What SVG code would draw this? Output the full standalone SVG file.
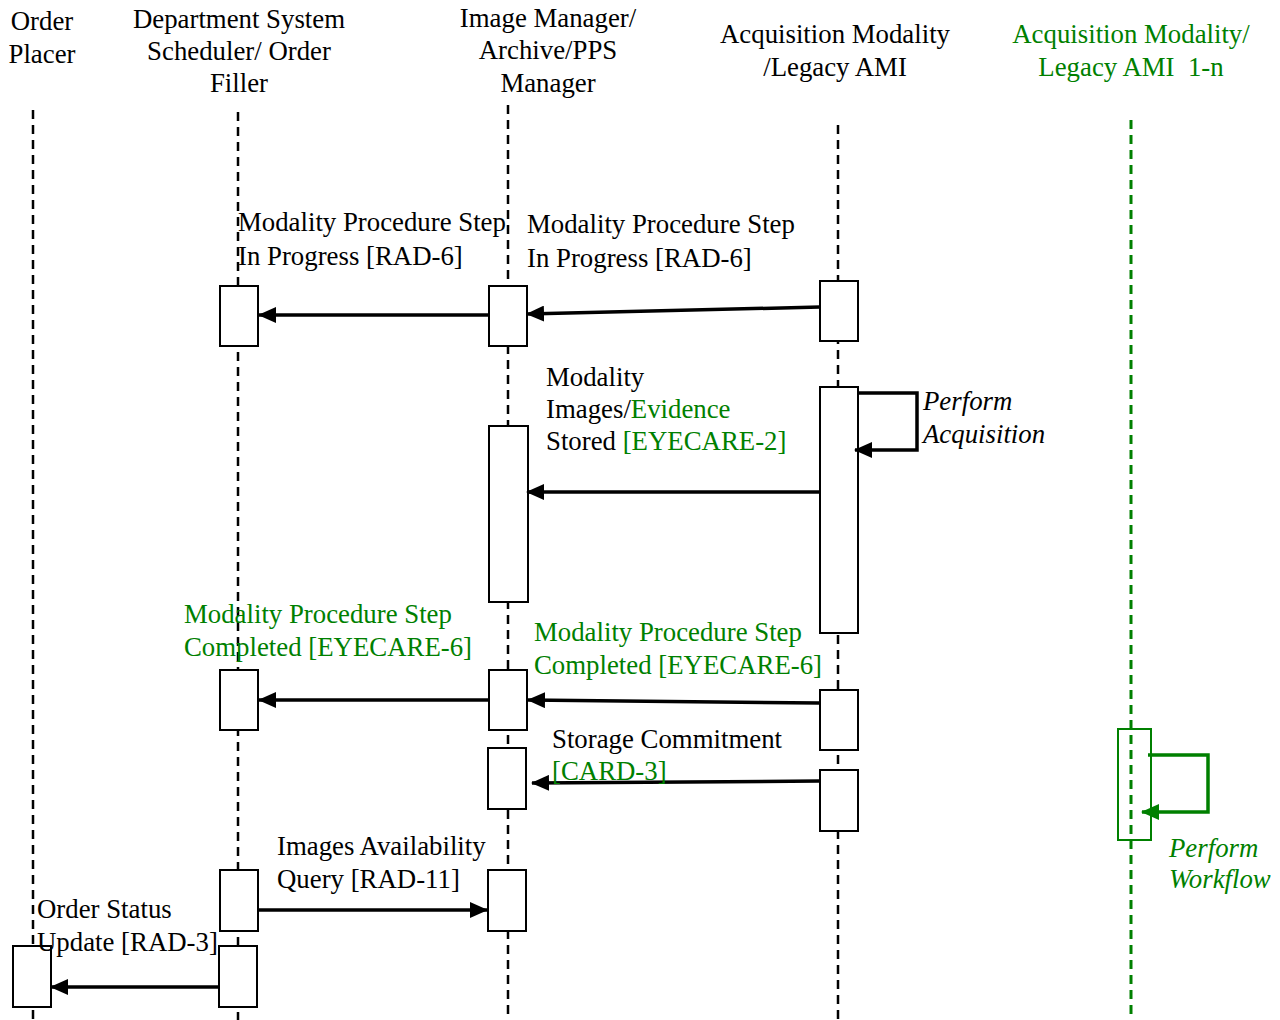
<svg xmlns="http://www.w3.org/2000/svg" width="1280" height="1020" viewBox="0 0 1280 1020">
<style>
text{font-family:"Liberation Serif","Times New Roman",serif;font-size:26.8px;fill:#000}
.g{fill:#008000}
.i{font-style:italic}
.c{text-anchor:middle}
.life{stroke:#000;stroke-width:2.5;stroke-dasharray:9,6;fill:none}
.lifeg{stroke:#008000;stroke-width:3;stroke-dasharray:9,6;fill:none}
.box{fill:#fff;stroke:#000;stroke-width:2}
.boxg{fill:none;stroke:#008000;stroke-width:2}
.msg{stroke:#000;stroke-width:3.5;fill:none;marker-end:url(#ah)}
.msgg{stroke:#008000;stroke-width:3.5;fill:none;marker-end:url(#ahg)}
</style>
<defs>
<marker id="ah" markerUnits="userSpaceOnUse" markerWidth="18" markerHeight="16" refX="17" refY="8" orient="auto"><path d="M0,0 L18,8 L0,16 Z" fill="#000"/></marker>
<marker id="ahg" markerUnits="userSpaceOnUse" markerWidth="18" markerHeight="16" refX="17" refY="8" orient="auto"><path d="M0,0 L18,8 L0,16 Z" fill="#008000"/></marker>
</defs>
<rect width="1280" height="1020" fill="#fff"/>
<g id="lifelines">
<line class="life" x1="33" y1="110" x2="33" y2="1020"/>
<line class="life" x1="238" y1="112" x2="238" y2="1020"/>
<line class="life" x1="508" y1="105" x2="508" y2="1020"/>
<line class="life" x1="838" y1="125" x2="838" y2="1020"/>
<line class="lifeg" x1="1131" y1="120" x2="1131" y2="1020"/>
</g>
<g id="order-placer"><text class="c" x="42" y="30">Order</text><text class="c" x="42" y="63">Placer</text></g>
<g id="dss"><text class="c" x="239" y="28">Department System</text><text class="c" x="239" y="60">Scheduler/ Order</text><text class="c" x="239" y="92">Filler</text></g>
<g id="image-manager"><text class="c" x="548" y="27">Image Manager/</text><text class="c" x="548" y="59">Archive/PPS</text><text class="c" x="548" y="92">Manager</text></g>
<g id="acq-modality"><text class="c" x="835" y="43">Acquisition Modality</text><text class="c" x="835" y="76">/Legacy AMI</text></g>
<g id="acq-modality-n"><text class="c g" x="1131" y="43">Acquisition Modality/</text><text class="c g" x="1131" y="76" xml:space="preserve">Legacy AMI  1-n</text></g>
<g id="activations">
<rect class="box" x="220" y="286" width="38" height="60"/>
<rect class="box" x="489" y="286" width="38" height="60"/>
<rect class="box" x="820" y="281" width="38" height="60"/>
<rect class="box" x="820" y="387" width="38" height="246"/>
<rect class="box" x="489" y="426" width="39" height="176"/>
<rect class="box" x="220" y="670" width="38" height="60"/>
<rect class="box" x="489" y="670" width="38" height="60"/>
<rect class="box" x="820" y="690" width="38" height="60"/>
<rect class="box" x="488" y="748" width="38" height="61"/>
<rect class="box" x="820" y="770" width="38" height="61"/>
<rect class="box" x="220" y="870" width="38" height="61"/>
<rect class="box" x="488" y="870" width="38" height="61"/>
<rect class="box" x="13" y="946" width="38" height="61"/>
<rect class="box" x="219" y="946" width="38" height="61"/>
<rect class="boxg" x="1118" y="729" width="33" height="111"/>
</g>
<g id="connectors">
<line class="msg" x1="489" y1="315" x2="259" y2="315"/>
<line class="msg" x1="820" y1="307" x2="527" y2="314"/>
<polyline class="msg" points="858,393 917,393 917,450 855,450"/>
<line class="msg" x1="820" y1="492" x2="527" y2="492"/>
<line class="msg" x1="489" y1="700" x2="259" y2="700"/>
<line class="msg" x1="820" y1="703" x2="528" y2="700"/>
<line class="msg" x1="820" y1="781" x2="532" y2="783"/>
<line class="msg" x1="258" y1="910" x2="487" y2="910"/>
<line class="msg" x1="219" y1="987" x2="51" y2="987"/>
<polyline class="msgg" points="1148,755 1208,755 1208,812 1142,812"/>
</g>
<g id="labels">
<text x="238" y="231">Modality Procedure Step</text><text x="238" y="265">In Progress [RAD-6]</text>
<text x="527" y="233">Modality Procedure Step</text><text x="527" y="267">In Progress [RAD-6]</text>
<text x="546" y="386">Modality</text>
<text x="546" y="418">Images/<tspan class="g">Evidence</tspan></text>
<text x="546" y="450">Stored <tspan class="g">[EYECARE-2]</tspan></text>
<text class="i" x="923" y="410">Perform</text><text class="i" x="923" y="443">Acquisition</text>
<text class="g" x="184" y="623">Modality Procedure Step</text><text class="g" x="184" y="656">Completed [EYECARE-6]</text>
<text class="g" x="534" y="641">Modality Procedure Step</text><text class="g" x="534" y="674">Completed [EYECARE-6]</text>
<text x="552" y="748">Storage Commitment</text><text class="g" x="552" y="780">[CARD-3]</text>
<text x="277" y="855">Images Availability</text><text x="277" y="888">Query [RAD-11]</text>
<text x="37" y="918">Order Status</text><text x="37" y="951">Update [RAD-3]</text>
<text class="g i" x="1169" y="857">Perform</text><text class="g i" x="1169" y="888">Workflow</text>
</g>
</svg>
